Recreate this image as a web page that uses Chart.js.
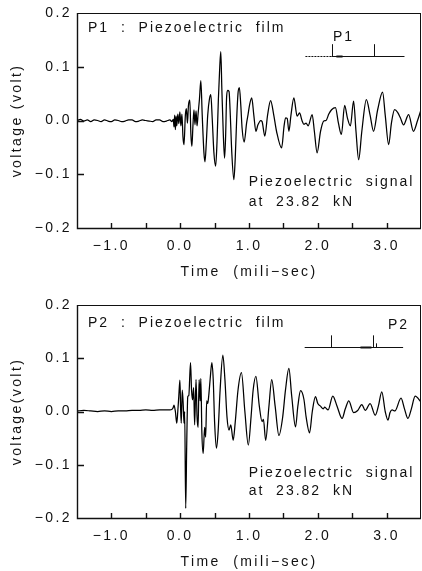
<!DOCTYPE html>
<html>
<head>
<meta charset="utf-8">
<script src="https://cdn.jsdelivr.net/npm/chart.js@4.4.1/dist/chart.umd.min.js"></script>
<style>
  html, body { margin: 0; padding: 0; background: #fff; overflow: hidden; }
  .panel { position: absolute; left: 0; width: 422px; height: 290px; }
  #p1 { top: 0; }
  #p2 { top: 290px; }
</style>
</head>
<body>
<div class="panel" id="p1"><canvas id="chart1" width="422" height="290"></canvas></div>
<div class="panel" id="p2"><canvas id="chart2" width="422" height="290"></canvas></div>
<script>
// P1 trace: time (ms) and voltage (V)
const t1 = [-1.5, -1.45, -1.4, -1.35, -1.3, -1.25, -1.2, -1.15, -1.1, -1.05, -1.0, -0.95, -0.9, -0.85, -0.8, -0.75,
    -0.7, -0.65, -0.6, -0.55, -0.5, -0.45, -0.4, -0.35, -0.3, -0.25, -0.2, -0.15, -0.12,
    -0.10, -0.09, -0.08, -0.07, -0.06, -0.05, -0.035, -0.02, -0.005, 0.01, 0.025, 0.04, 0.055, 0.075, 0.09,
    0.105, 0.12, 0.14, 0.155, 0.17, 0.185, 0.20, 0.215, 0.23, 0.245, 0.26, 0.28, 0.30, 0.32, 0.345, 0.36,
    0.38, 0.40, 0.425, 0.445, 0.465, 0.49, 0.515, 0.535, 0.555, 0.575, 0.59, 0.605, 0.625, 0.645, 0.66,
    0.675, 0.69, 0.71, 0.725, 0.75, 0.78, 0.80, 0.82, 0.84, 0.86, 0.88, 0.90, 0.93, 0.965, 0.985, 1.01,
    1.04, 1.07, 1.10, 1.13, 1.17, 1.19, 1.23, 1.27, 1.314, 1.36, 1.40, 1.474, 1.51, 1.532, 1.555, 1.58,
    1.61, 1.652, 1.70, 1.735, 1.77, 1.798, 1.83, 1.86, 1.918, 1.95, 1.99, 2.04, 2.087, 2.12, 2.16, 2.20,
    2.256, 2.30, 2.343, 2.39, 2.43, 2.474, 2.52, 2.555, 2.594, 2.64, 2.706, 2.76, 2.81, 2.87, 2.942, 2.98,
    3.03, 3.07, 3.116, 3.16, 3.20, 3.246, 3.32, 3.39, 3.45, 3.51];
const v1 = [0.000, 0.002, -0.001, 0.001, -0.002, 0.001, 0.000, -0.002, 0.001, -0.001, -0.002, 0.001, 0.000, -0.002, -0.001, 0.001,
    0.001, -0.002, -0.001, 0.001, 0.000, -0.001, -0.002, 0.001, 0.001, -0.002, -0.001, 0.001, -0.002,
    0.002, -0.012, 0.010, -0.017, 0.008, -0.010, 0.012, -0.006, 0.016, -0.010, 0.012, -0.030, -0.045, 0.010, 0.022,
    -0.005, 0.028, 0.038, -0.025, -0.048, -0.010, 0.020, -0.008, 0.018, -0.010, 0.012, 0.040, 0.074, 0.010, -0.060, -0.077,
    -0.040, 0.010, 0.040, 0.048, 0.005, -0.060, -0.085, -0.040, 0.040, 0.100, 0.128, 0.060, -0.020, -0.070, -0.030,
    0.045, 0.056, 0.054, 0.020, -0.060, -0.110, -0.070, 0.000, 0.050, 0.061, 0.030, -0.015, -0.040, -0.005, 0.010, 0.030,
    0.042, 0.010, -0.020, -0.008, 0.000, -0.002, -0.029, 0.010, 0.037, 0.010, -0.020, -0.051, -0.010, 0.005, 0.004, -0.020,
    0.010, 0.042, 0.008, 0.014, 0.000, -0.007, -0.005, -0.010, 0.011, -0.020, -0.060, -0.020, -0.001, 0.000, 0.012, 0.020,
    0.024, -0.005, -0.026, 0.028, 0.005, -0.010, 0.036, -0.020, -0.073, -0.020, 0.039, 0.010, -0.020, 0.020, 0.053, 0.010,
    -0.045, -0.005, 0.020, 0.015, 0.005, -0.008, 0.011, -0.020, 0.000, 0.024];

// P2 trace
const t2 = [-1.5, -1.4, -1.3, -1.2, -1.1, -1.0, -0.9, -0.8, -0.7, -0.6, -0.5, -0.4, -0.3, -0.2, -0.15, -0.12,
    -0.10, -0.09, -0.07, -0.05, -0.035, -0.02, -0.004, 0.005, 0.015, 0.03, 0.045, 0.055, 0.065, 0.08, 0.095,
    0.11, 0.125, 0.15, 0.165, 0.18, 0.195, 0.21, 0.23, 0.245, 0.26, 0.275, 0.29, 0.30, 0.315, 0.334, 0.355,
    0.37, 0.385, 0.40, 0.415, 0.435, 0.46, 0.48, 0.50, 0.527, 0.55, 0.58, 0.62, 0.65, 0.68, 0.71, 0.735,
    0.77, 0.80, 0.84, 0.89, 0.94, 0.99, 1.03, 1.06, 1.10, 1.15, 1.19, 1.21, 1.242, 1.29, 1.33, 1.38, 1.435,
    1.49, 1.53, 1.58, 1.62, 1.676, 1.71, 1.749, 1.798, 1.83, 1.88, 1.92, 1.966, 2.00, 2.04, 2.08, 2.10, 2.15,
    2.218, 2.28, 2.353, 2.40, 2.45, 2.52, 2.58, 2.64, 2.69, 2.76, 2.835, 2.88, 2.93, 2.98, 3.02, 3.05, 3.08,
    3.12, 3.21, 3.26, 3.31, 3.36, 3.415, 3.5];
const v2 = [0.001, 0.002, 0.001, 0.000, 0.001, 0.000, 0.001, 0.001, 0.002, 0.002, 0.003, 0.002, 0.003, 0.003, 0.003, 0.004,
    0.008, 0.012, 0.000, -0.022, 0.000, 0.030, 0.059, 0.010, -0.022, 0.040, 0.010, -0.022, 0.000, -0.182, -0.060,
    0.028, 0.030, 0.092, 0.040, 0.022, 0.045, -0.025, 0.060, -0.010, -0.030, 0.060, 0.020, 0.062, -0.040, -0.079, -0.030,
    -0.048, 0.020, 0.015, 0.030, 0.060, 0.092, 0.060, -0.020, -0.069, -0.040, 0.040, 0.106, 0.060, -0.010, -0.035, -0.025,
    -0.054, -0.020, 0.040, 0.073, 0.000, -0.063, -0.010, 0.040, 0.066, 0.010, -0.019, -0.015, -0.054, 0.010, 0.060, 0.010, -0.045,
    -0.010, 0.040, 0.081, 0.030, -0.029, 0.010, 0.039, 0.023, -0.010, -0.040, 0.000, 0.028, 0.015, 0.010, 0.005, 0.008, 0.003,
    0.029, 0.010, -0.013, 0.005, 0.020, -0.002, 0.002, 0.013, 0.002, 0.015, -0.007, 0.010, 0.037, 0.000, -0.016, -0.002, 0.003,
    0.001, 0.025, 0.005, -0.013, 0.005, 0.029, 0.018];

const ink = '#111';
const font = { family: "'Liberation Sans', Arial, sans-serif", size: 14 };
const fmt = v => (Math.abs(v) < 1e-9 ? 0 : v).toFixed(1).replace('-', '\u2212');

// wide letter spacing like the plotter font
const spacing = {
    id: 'spacing',
    beforeLayout(chart) { chart.ctx.letterSpacing = '2.4px'; },
    beforeDraw(chart) { chart.ctx.letterSpacing = '2.4px'; }
};

// box round the plot and inward tick marks
const frame = {
    id: 'frame',
    afterDraw(chart) {
        const { ctx, chartArea: a, scales: { x, y } } = chart;
        ctx.save();
        ctx.strokeStyle = ink;
        ctx.lineWidth = 1;
        ctx.strokeRect(a.left + 0.5, a.top + 0.5, a.right - a.left - 1, a.bottom - a.top);
        ctx.lineWidth = 1.4;
        ctx.beginPath();
        ctx.moveTo(a.left + 0.5, a.top);
        ctx.lineTo(a.left + 0.5, a.bottom + 0.5);
        ctx.lineTo(a.right, a.bottom + 0.5);
        x.ticks.forEach(t => {
            if (t.value <= x.min || t.value >= x.max) return;
            const px = Math.round(x.getPixelForValue(t.value)) + 0.5;
            ctx.moveTo(px, a.bottom);
            ctx.lineTo(px, a.bottom - 5);
        });
        y.ticks.forEach(t => {
            if (t.value <= y.min || t.value >= y.max) return;
            const py = Math.round(y.getPixelForValue(t.value)) + 0.5;
            ctx.moveTo(a.left, py);
            ctx.lineTo(a.left + 7, py);
        });
        ctx.stroke();
        ctx.restore();
    }
};

// text notes and the little sensor sketch, placed in data units
const notes = {
    id: 'notes',
    afterDraw(chart, args, opts) {
        const { ctx, scales: { x, y } } = chart;
        ctx.save();
        ctx.fillStyle = ink;
        ctx.strokeStyle = ink;
        ctx.font = "14px 'Liberation Sans', Arial, sans-serif";
        ctx.letterSpacing = '2px';
        ctx.textBaseline = 'middle';
        opts.texts.forEach(n => ctx.fillText(n.text, x.getPixelForValue(n.x), y.getPixelForValue(n.y)));

        const s = opts.sketch;
        const ly = Math.round(y.getPixelForValue(s.y)) + 0.5;
        ctx.lineWidth = 1;
        ctx.setLineDash([2, 1]);
        ctx.beginPath();
        ctx.moveTo(x.getPixelForValue(s.x1), ly);
        ctx.lineTo(x.getPixelForValue(s.dashTo), ly);
        ctx.stroke();
        ctx.setLineDash([]);
        ctx.beginPath();
        ctx.moveTo(x.getPixelForValue(s.dashTo), ly);
        ctx.lineTo(x.getPixelForValue(s.x2), ly);
        s.posts.forEach(p => {
            const px = Math.round(x.getPixelForValue(p[0])) + 0.5;
            ctx.moveTo(px, ly);
            ctx.lineTo(px, y.getPixelForValue(p[1]));
        });
        ctx.stroke();
        ctx.lineWidth = 2;
        ctx.beginPath();
        ctx.moveTo(x.getPixelForValue(s.mark[0]), ly);
        ctx.lineTo(x.getPixelForValue(s.mark[1]), ly);
        ctx.stroke();
        ctx.restore();
    }
};

function makeChart(id, times, volts, cfg) {
    return new Chart(document.getElementById(id), {
        type: 'line',
        data: {
            datasets: [{
                data: times.map((t, i) => ({ x: t, y: volts[i] })),
                borderColor: '#000',
                borderWidth: 1.25,
                pointRadius: 0,
                cubicInterpolationMode: 'monotone',
                fill: false
            }]
        },
        options: {
            responsive: false,
            animation: false,
            events: [],
            layout: { padding: { top: cfg.top, right: 1, left: 0, bottom: 0 } },
            plugins: {
                legend: { display: false },
                tooltip: { enabled: false },
                notes: { texts: cfg.texts, sketch: cfg.sketch }
            },
            scales: {
                x: {
                    type: 'linear', min: -1.5, max: 3.5,
                    grid: { display: false, drawTicks: false },
                    border: { display: false },
                    ticks: {
                        stepSize: 0.5, autoSkip: false, maxRotation: 0, padding: 10, color: ink, font,
                        callback: v => Math.abs(v - Math.round(v)) < 1e-6 ? fmt(v) : ''
                    },
                    title: { display: true, text: 'Time  (mili\u2212sec)', color: ink, font, padding: { top: 0, bottom: 9 } },
                    afterFit: s => { s.height = 62; s.paddingLeft = 0; s.paddingRight = 0; }
                },
                y: {
                    min: -0.2, max: 0.2,
                    grid: { display: false, drawTicks: false },
                    border: { display: false },
                    ticks: { stepSize: 0.1, padding: 5, color: ink, font, callback: v => fmt(v) },
                    title: { display: true, text: cfg.yTitle, color: ink, font, padding: { top: 9, bottom: 0 } },
                    afterFit: s => { s.width = 77; s.paddingTop = 0; s.paddingBottom = 0; }
                }
            }
        },
        plugins: [spacing, frame, notes]
    });
}

makeChart('chart1', t1, v1, {
    top: 13,
    yTitle: 'voltage (volt)',
    texts: [
        { text: 'P1  :  Piezoelectric  film', x: -1.34, y: 0.171 },
        { text: 'Piezoelectric  signal', x: 0.995, y: -0.115 },
        { text: 'at  23.82  kN', x: 0.995, y: -0.151 },
        { text: 'P1', x: 2.22, y: 0.155 }
    ],
    sketch: { x1: 1.82, dashTo: 2.2, x2: 3.26, y: 0.12, posts: [[2.2, 0.142], [2.82, 0.142]], mark: [2.27, 2.36] }
});

makeChart('chart2', t2, v2, {
    top: 15,
    yTitle: 'voltage(volt)',
    texts: [
        { text: 'P2  :  Piezoelectric  film', x: -1.34, y: 0.166 },
        { text: 'Piezoelectric  signal', x: 0.995, y: -0.115 },
        { text: 'at  23.82  kN', x: 0.995, y: -0.149 },
        { text: 'P2', x: 3.02, y: 0.162 }
    ],
    sketch: { x1: 1.81, dashTo: 1.81, x2: 3.24, y: 0.121, posts: [[2.186, 0.143], [2.807, 0.143], [2.85, 0.128]], mark: [2.62, 2.78] }
});
</script>
</body>
</html>
